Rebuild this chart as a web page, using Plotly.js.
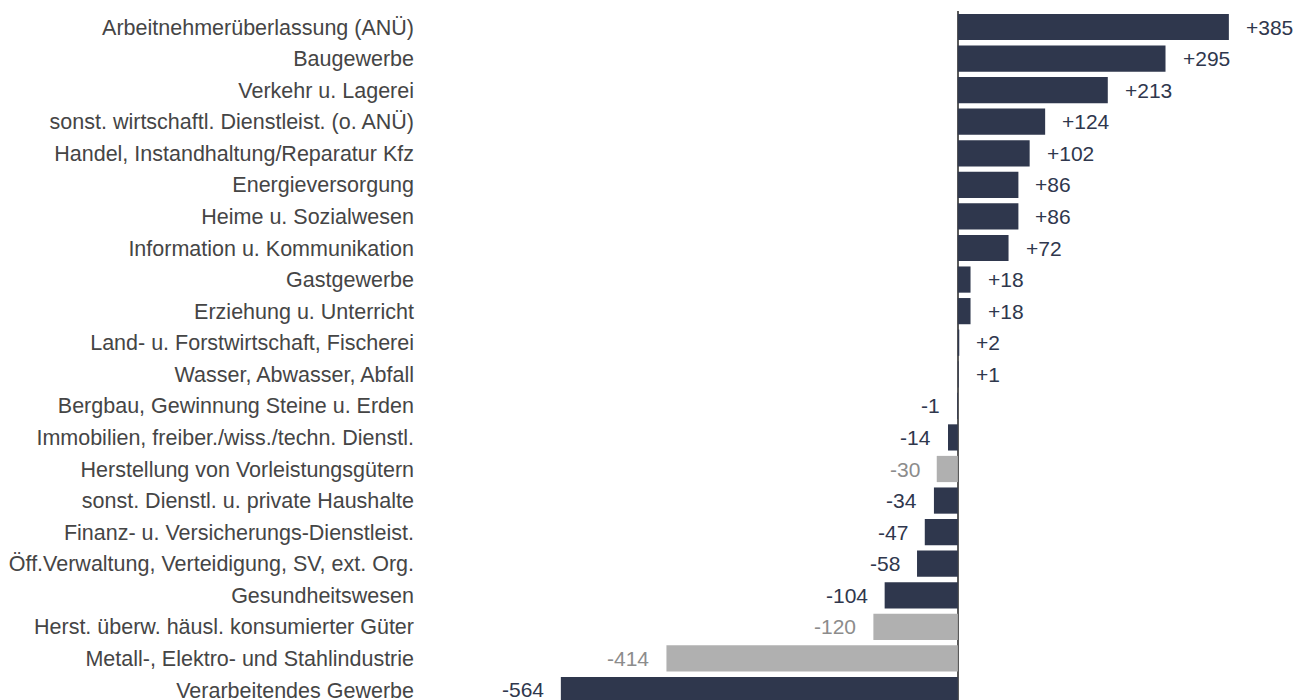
<!DOCTYPE html>
<html>
<head>
<meta charset="utf-8">
<script src="https://cdn.plot.ly/plotly-3.0.1.min.js"></script>
<style>
html,body{margin:0;padding:0;background:#fff;}
#chart{width:1307px;height:700px;}
</style>
</head>
<body>
<div id="chart"></div>
<script>
const categories = [
  "Arbeitnehmerüberlassung (ANÜ)",
  "Baugewerbe",
  "Verkehr u. Lagerei",
  "sonst. wirtschaftl. Dienstleist. (o. ANÜ)",
  "Handel, Instandhaltung/Reparatur Kfz",
  "Energieversorgung",
  "Heime u. Sozialwesen",
  "Information u. Kommunikation",
  "Gastgewerbe",
  "Erziehung u. Unterricht",
  "Land- u. Forstwirtschaft, Fischerei",
  "Wasser, Abwasser, Abfall",
  "Bergbau, Gewinnung Steine u. Erden",
  "Immobilien, freiber./wiss./techn. Dienstl.",
  "Herstellung von Vorleistungsgütern",
  "sonst. Dienstl. u. private Haushalte",
  "Finanz- u. Versicherungs-Dienstleist.",
  "Öff.Verwaltung, Verteidigung, SV, ext. Org.",
  "Gesundheitswesen",
  "Herst. überw. häusl. konsumierter Güter",
  "Metall-, Elektro- und Stahlindustrie",
  "Verarbeitendes Gewerbe"
];
const values = [385, 295, 213, 124, 102, 86, 86, 72, 18, 18, 2, 1, -1, -14, -30, -34, -47, -58, -104, -120, -414, -564];
// "sub" = Teilbereich des Verarbeitenden Gewerbes (grau)
const groups = ["main","main","main","main","main","main","main","main","main","main","main","main","main","main","sub","main","main","main","main","sub","sub","main"];

const barColor = {main: "#2f374d", sub: "#b0b0b0"};
const textColor = {main: "#2f374d", sub: "#8c8c8c"};
const FONT = "Liberation Sans, Arial, sans-serif";

const labels = values.map(v => (v > 0 ? "+" : "") + v);

const trace = {
  type: "bar",
  orientation: "h",
  x: values,
  y: categories,
  marker: {color: groups.map(g => barColor[g])},
  width: 0.83,
  hoverinfo: "skip"
};

const annotations = values.map((v, i) => ({
  x: v,
  y: categories[i],
  xref: "x",
  yref: "y",
  text: labels[i],
  showarrow: false,
  xanchor: v >= 0 ? "left" : "right",
  yanchor: "middle",
  xshift: v >= 0 ? 15 : -15,
  font: {family: FONT, size: 21, color: textColor[groups[i]]}
}));

const layout = {
  width: 1307,
  height: 700,
  margin: {l: 425, r: 0, t: 11, b: 0, pad: 0},
  paper_bgcolor: "#ffffff",
  plot_bgcolor: "#ffffff",
  showlegend: false,
  xaxis: {
    range: [-757, 496],
    showgrid: false,
    showticklabels: false,
    zeroline: true,
    zerolinecolor: "#5a5a5a",
    zerolinewidth: 2,
    fixedrange: true
  },
  yaxis: {
    type: "category",
    range: [21.317, -0.507],
    showgrid: false,
    zeroline: false,
    ticks: "",
    ticklabelstandoff: 10,
    tickfont: {family: FONT, size: 21.5, color: "#454545"},
    automargin: false,
    fixedrange: true
  },
  annotations: annotations
};

Plotly.newPlot("chart", [trace], layout, {displayModeBar: false, staticPlot: true});
</script>
</body>
</html>
